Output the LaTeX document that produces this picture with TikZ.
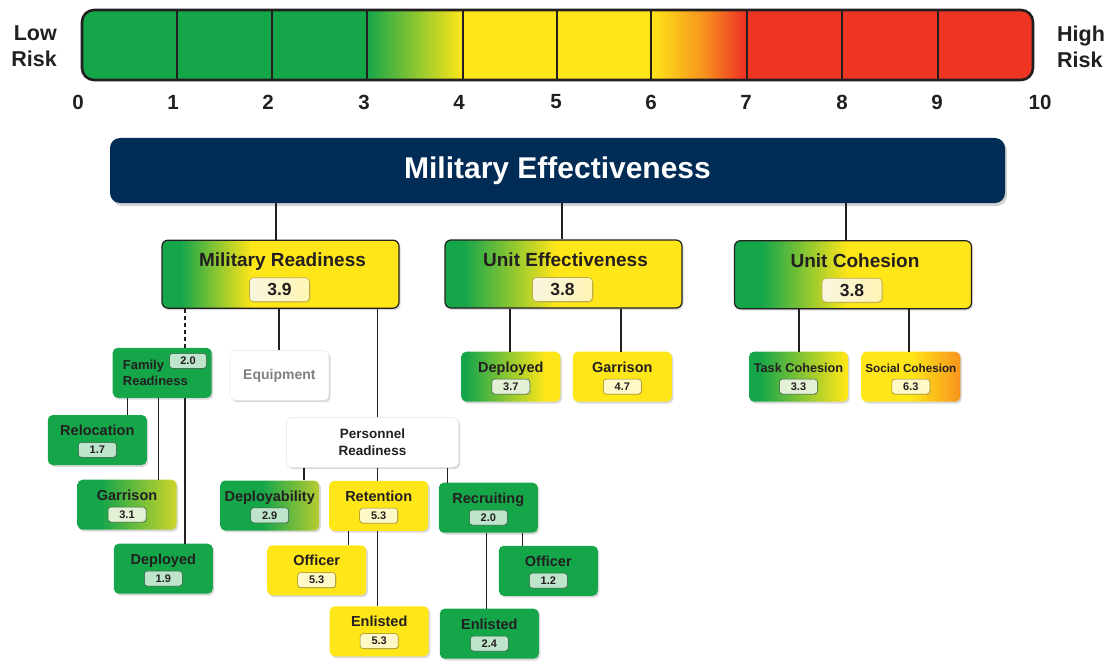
\documentclass[tikz,border=0pt]{standalone}
\usepackage{fontspec}
\setmainfont{Liberation Sans}
\usetikzlibrary{shadows}
\definecolor{gG}{RGB}{22,166,74}
\definecolor{gY}{RGB}{255,230,25}
\definecolor{gR}{RGB}{238,53,36}
\definecolor{gO}{RGB}{247,148,29}
\definecolor{gYG}{RGB}{205,213,43}
\definecolor{gYGb}{RGB}{185,204,50}
\definecolor{navy}{RGB}{0,44,86}
\definecolor{ink}{RGB}{35,31,32}
\definecolor{gV}{RGB}{190,228,204}
\definecolor{gVd}{RGB}{40,90,55}
\definecolor{yV}{RGB}{255,249,200}
\definecolor{yVd}{RGB}{150,130,30}
\definecolor{mV}{RGB}{228,240,214}
\definecolor{vL}{RGB}{248,246,222}
\definecolor{vR}{RGB}{255,245,180}
\definecolor{vbd}{RGB}{190,170,70}
\pgfdeclarehorizontalshading{mrS}{100bp}{color(0bp)=(gG); color(29bp)=(gG); color(44bp)=(gY); color(100bp)=(gY)}
\pgfdeclarehorizontalshading{ueS}{100bp}{color(0bp)=(gG); color(29bp)=(gG); color(48.5bp)=(gY); color(100bp)=(gY)}
\pgfdeclarehorizontalshading{ucS}{100bp}{color(0bp)=(gG); color(31bp)=(gG); color(49bp)=(gY); color(100bp)=(gY)}
\pgfdeclarehorizontalshading{garS}{100bp}{color(0bp)=(gG); color(37bp)=(gG); color(75bp)=(gYG); color(100bp)=(gYG)}
\pgfdeclarehorizontalshading{dpyS}{100bp}{color(0bp)=(gG); color(46.5bp)=(gG); color(75bp)=(gYGb); color(100bp)=(gYGb)}
\pgfdeclarehorizontalshading{udS}{100bp}{color(0bp)=(gG); color(27.5bp)=(gG); color(67.5bp)=(gY); color(100bp)=(gY)}
\pgfdeclarehorizontalshading{tcS}{100bp}{color(0bp)=(gG); color(30.5bp)=(gG); color(74bp)=(gY); color(100bp)=(gY)}
\pgfdeclarehorizontalshading{scS}{100bp}{color(0bp)=(gY); color(50bp)=(gY); color(75bp)=(gO); color(100bp)=(gO)}
\pgfdeclarehorizontalshading{barA}{100bp}{color(0bp)=(gG); color(25bp)=(gG); color(75bp)=(gY); color(100bp)=(gY)}
\pgfdeclarehorizontalshading{barB}{100bp}{color(0bp)=(gY); color(25bp)=(gY); color(52bp)=(gO); color(73bp)=(gR); color(100bp)=(gR)}
\tikzset{
  every node/.style={font=\bfseries, text=ink, inner sep=0pt},
  con/.style={line width=1.3pt, draw=ink},
  shd/.style={drop shadow={shadow xshift=1.6pt, shadow yshift=-1.8pt, opacity=.3}},
  bigbox/.style={shd, draw=ink, line width=1.2pt, rounded corners=6pt, minimum width=237pt, minimum height=68pt},
  smbox/.style={shd, rounded corners=5pt, minimum width=99pt, minimum height=50pt},
  gbox/.style={smbox, fill=gG},
  ybox/.style={smbox, fill=gY},
  wbox/.style={smbox, fill=white, draw=black!10, line width=.5pt},
  shbox/.style={smbox, shade, shading=#1},
  bigttl/.style={anchor=base, font=\bfseries\fontsize{19}{22}\selectfont},
  sttl/.style={anchor=base, font=\bfseries\fontsize{14.5}{17}\selectfont},
  bigval/.style={drop shadow={shadow xshift=1pt, shadow yshift=-1pt, opacity=.25}, draw=vbd, line width=.6pt, rounded corners=4pt, minimum width=60pt, minimum height=24pt, left color=vL, right color=vR, font=\bfseries\fontsize{17.5}{20}\selectfont},
  sval/.style={drop shadow={shadow xshift=.8pt, shadow yshift=-.8pt, opacity=.25}, rounded corners=3pt, minimum width=38pt, minimum height=15pt, line width=.5pt, font=\bfseries\fontsize{11}{13}\selectfont},
  gval/.style={sval, fill=gV, draw=gVd},
  yval/.style={sval, fill=yV, draw=yVd},
  mval/.style={sval, fill=mV, draw=gVd},
  num/.style={font=\bfseries\fontsize{20.5}{24}\selectfont},
  risk/.style={font=\bfseries\fontsize{21.5}{26}\selectfont},
}
\newcommand\snode[7]{%
  \node[#4] (#1) at (#2,#3) {};
  \node[sttl] (#1-t) at (#2,#3-4.4) {#5};
  \node[#7] (#1-v) at (#2,#3+9.8) {#6};
}
\newcommand\bnode[6]{%
  \node[bigbox, shade, shading=#4] (#1) at (#2,#3) {};
  \node[bigttl] (#1-t) at (#2+2,#3-7.5) {#5};
  \node[bigval] (#1-v) at (#2-1,#3+15.5) {#6};
}
\begin{document}
\begin{tikzpicture}[x=1pt, y=-1pt]
\useasboundingbox (0,0) rectangle (1115,663);
% ---------- risk scale ----------
\begin{scope}
  \clip[rounded corners=12pt] (82,10) rectangle (1033,80);
  \fill[gG] (82,10) rectangle (367,80);
  \shade[shading=barA] (367,10) rectangle (463,80);
  \fill[gY] (463,10) rectangle (651,80);
  \shade[shading=barB] (651,10) rectangle (747,80);
  \fill[gR] (747,10) rectangle (1033,80);
\end{scope}
\foreach \x in {177,272,367,463,557,651,747,842,938}
  \draw[line width=2.3pt, ink] (\x,10) -- (\x,80);
\draw[line width=2.6pt, ink, rounded corners=12pt] (82,10) rectangle (1033,80);
\foreach \v/\x in {0/78,1/173,2/268,3/364,4/459,5/556,6/651,7/746,8/842,9/937,10/1040}
  \node[num] (n\v) at (\x,102) {\v};
\node[risk, align=right, anchor=east] (low) at (57,46.3) {Low\\Risk};
\node[risk, align=left, anchor=west] (high) at (1057,47.3) {High\\Risk};
% ---------- top node ----------
\node[fill=navy, rounded corners=10pt, minimum width=895pt, minimum height=65pt,
      drop shadow={shadow xshift=2pt, shadow yshift=-3pt, opacity=.35},
      text=white, font=\bfseries\fontsize{30}{34}\selectfont] (me) at (557.5,170.5) {Military Effectiveness};
% ---------- second level ----------
\bnode{mr}{280.5}{274.2}{mrS}{Military Readiness}{3.9}
\bnode{ue}{563.5}{274}{ueS}{Unit Effectiveness}{3.8}
\bnode{uc}{853}{274.7}{ucS}{Unit Cohesion}{3.8}
% ---------- military readiness branch ----------
\node[gbox] (fr) at (162.2,372.8) {};
\node[anchor=west, align=left, font=\bfseries\fontsize{13}{16}\selectfont] (fr-t) at (122.7,373.2) {Family\\Readiness};
\node[gval, minimum width=37pt] (fr-v) at (188,360.8) {2.0};
\node[wbox, text=black!50, font=\bfseries\fontsize{14}{17}\selectfont] (eq) at (279.4,375.4) {Equipment};
\node[wbox, minimum width=172pt, align=center, font=\bfseries\fontsize{13.5}{17}\selectfont] (pr) at (372.5,442.3) {Personnel\\Readiness};
\snode{rel}{97.3}{440}{gbox}{Relocation}{1.7}{gval}
\snode{fgar}{127}{504.7}{shbox=garS}{Garrison}{3.1}{mval}
\snode{fdep}{163.3}{568.7}{gbox}{Deployed}{1.9}{gval}
\snode{dpy}{269.7}{505.5}{shbox=dpyS}{Deployability}{2.9}{gval}
\snode{rtn}{378.7}{505.8}{ybox}{Retention}{5.3}{yval}
\snode{rcr}{488.3}{507.7}{gbox}{Recruiting}{2.0}{gval}
\snode{rtnoff}{316.7}{570.3}{ybox}{Officer}{5.3}{yval}
\snode{rtnenl}{379.2}{631.3}{ybox}{Enlisted}{5.3}{yval}
\snode{rcroff}{548.3}{570.8}{gbox}{Officer}{1.2}{gval}
\snode{rcrenl}{489.3}{633.7}{gbox}{Enlisted}{2.4}{gval}
% ---------- unit effectiveness / cohesion branches ----------
\snode{ud}{510.8}{376.7}{shbox=udS}{Deployed}{3.7}{mval}
\snode{ug}{622.3}{376.7}{ybox}{Garrison}{4.7}{yval}
\snode{tc}{798.5}{376.7}{shbox=tcS}{\fontsize{12.7}{15}\selectfont Task Cohesion}{3.3}{mval}
\snode{sc}{910.8}{376.7}{shbox=scS}{\fontsize{11.7}{14}\selectfont Social Cohesion}{6.3}{yval}
% ---------- connectors ----------
\coordinate (k1) at (276,0);   \coordinate (k2) at (562,0);   \coordinate (k3) at (846,0);
\coordinate (k4) at (185,0);   \coordinate (k5) at (279,0);   \coordinate (k6) at (377.3,0);
\coordinate (k7) at (510,0);   \coordinate (k8) at (621,0);   \coordinate (k9) at (799,0);
\coordinate (k10) at (909,0);  \coordinate (k11) at (127.3,0); \coordinate (k12) at (158.3,0);
\coordinate (k13) at (304,0);  \coordinate (k14) at (447.3,0); \coordinate (k15) at (348.3,0);
\coordinate (k16) at (486.7,0); \coordinate (k17) at (522.3,0);
\draw[con] (me.south -| k1) -- (mr.north -| k1);
\draw[con] (me.south -| k2) -- (ue.north -| k2);
\draw[con] (me.south -| k3) -- (uc.north -| k3);
\draw[con, dash pattern=on 4pt off 3pt] (mr.south -| k4) -- (fr.north -| k4);
\draw[con] (mr.south -| k5) -- (eq.north -| k5);
\draw[con] (mr.south -| k6) -- (pr.north -| k6);
\draw[con] (ue.south -| k7) -- (ud.north -| k7);
\draw[con] (ue.south -| k8) -- (ug.north -| k8);
\draw[con] (uc.south -| k9) -- (tc.north -| k9);
\draw[con] (uc.south -| k10) -- (sc.north -| k10);
\draw[con] (fr.south -| k11) -- (rel.north -| k11);
\draw[con] (fr.south -| k12) -- (fgar.north -| k12);
\draw[con] (fr.south -| k4) -- (fdep.north -| k4);
\draw[con] (pr.south -| k13) -- (dpy.north -| k13);
\draw[con] (pr.south -| k6) -- (rtn.north -| k6);
\draw[con] (pr.south -| k14) -- (rcr.north -| k14);
\draw[con] (rtn.south -| k15) -- (rtnoff.north -| k15);
\draw[con] (rtn.south -| k6) -- (rtnenl.north -| k6);
\draw[con] (rcr.south -| k16) -- (rcrenl.north -| k16);
\draw[con] (rcr.south -| k17) -- (rcroff.north -| k17);
\end{tikzpicture}
\end{document}
